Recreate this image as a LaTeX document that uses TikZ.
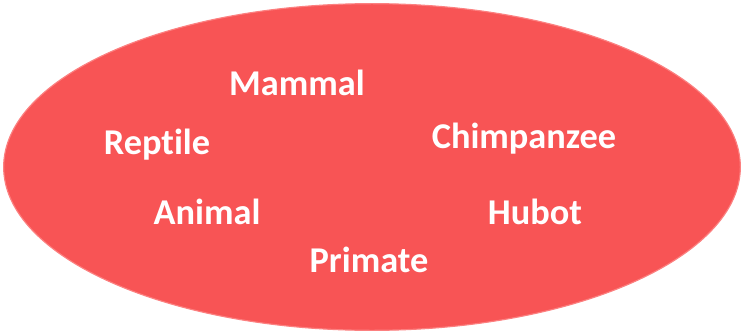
\documentclass[tikz,border=0pt]{standalone}
\usepackage{fontspec}
\setmainfont{Carlito}[Ligatures={NoCommon}]
\usepackage{xcolor}
\definecolor{setred}{RGB}{248,84,85}
\definecolor{setlight}{RGB}{252,128,128}
\usetikzlibrary{shapes.geometric}

\tikzset{
  word/.style={font=\fontsize{31}{36}\selectfont\bfseries, text=white, inner sep=0pt}
}

\begin{document}
\begin{tikzpicture}[x=0.03cm, y=-0.03cm]
      \useasboundingbox (0,0) rectangle (742,332);
      % The set itself
      \node[ellipse, minimum width=22.1cm, minimum height=9.8cm, fill=setred, draw=setlight, line width=1pt] (set) at (372,167) {};

      % Members
      \node[word] (mammal) at (297,83) {Mammal};
      \node[word] (reptile) at (157,145) {Reptile};
      \node[word] (chimpanzee) at (524,139) {Chimpanzee};
      \node[word] (animal) at (207,212) {Animal};
      \node[word] (hubot) at (535,212) {Hubot};
      \node[word] (primate) at (369,260) {Primate};
\end{tikzpicture}
\end{document}
